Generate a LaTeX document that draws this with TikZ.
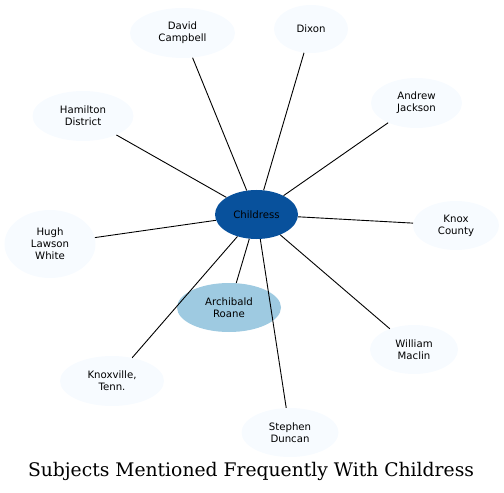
\documentclass[tikz,border=0pt]{standalone}
\usepackage{fontspec}
\usepackage{tikz}
\usetikzlibrary{shapes.geometric}
\newfontfamily\subjfont{DejaVu Sans}
\newfontfamily\headfont{DejaVu Serif}
\definecolor{subjpale}{HTML}{F7FBFF}
\definecolor{subjmid}{HTML}{9ECAE1}
\definecolor{subjdark}{HTML}{08519C}

\begin{document}
\begin{tikzpicture}[
    x=1bp, y=-1bp,
    subject/.style={ellipse, inner sep=0pt, align=center, fill=subjpale,
                    font=\subjfont\fontsize{10.2}{12}\selectfont},
    link/.style={draw=black, line width=0.9bp}
  ]
    \useasboundingbox (0,0) rectangle (504,493);

    \node[subject, fill=subjdark, minimum width=83bp, minimum height=49bp] (ch) at (256.5,214.5) {Childress};
    \node[subject, fill=subjmid, minimum width=104bp, minimum height=49bp] (ar) at (229,307.5) {Archibald\\Roane};

    \node[subject, minimum width=105bp, minimum height=50bp] (dc) at (182.5,33) {David\\Campbell};
    \node[subject, minimum width=74bp, minimum height=48bp] (dx) at (311,29) {Dixon};
    \node[subject, minimum width=91bp, minimum height=50bp] (aj) at (416.5,103) {Andrew\\Jackson};
    \node[subject, minimum width=101bp, minimum height=50bp] (hd) at (83,116) {Hamilton\\District};
    \node[subject, minimum width=91bp, minimum height=68bp] (hw) at (50,244) {Hugh\\Lawson\\White};
    \node[subject, minimum width=86bp, minimum height=49bp] (kc) at (456,225.5) {Knox\\County};
    \node[subject, minimum width=88bp, minimum height=49bp] (wm) at (414,349.5) {William\\Maclin};
    \node[subject, minimum width=104bp, minimum height=50bp] (kt) at (112,381) {Knoxville,\\Tenn.};
    \node[subject, minimum width=97bp, minimum height=49bp] (sd) at (290,432.5) {Stephen\\Duncan};

    \foreach \other in {ar,dc,dx,aj,hd,hw,kc,wm,kt,sd}
      \draw[link] (ch) -- (\other);

    \node[font=\headfont\fontsize{18.8}{22}\selectfont] (title) at (251,471) {Subjects Mentioned Frequently With Childress};
  \end{tikzpicture}
\end{document}
